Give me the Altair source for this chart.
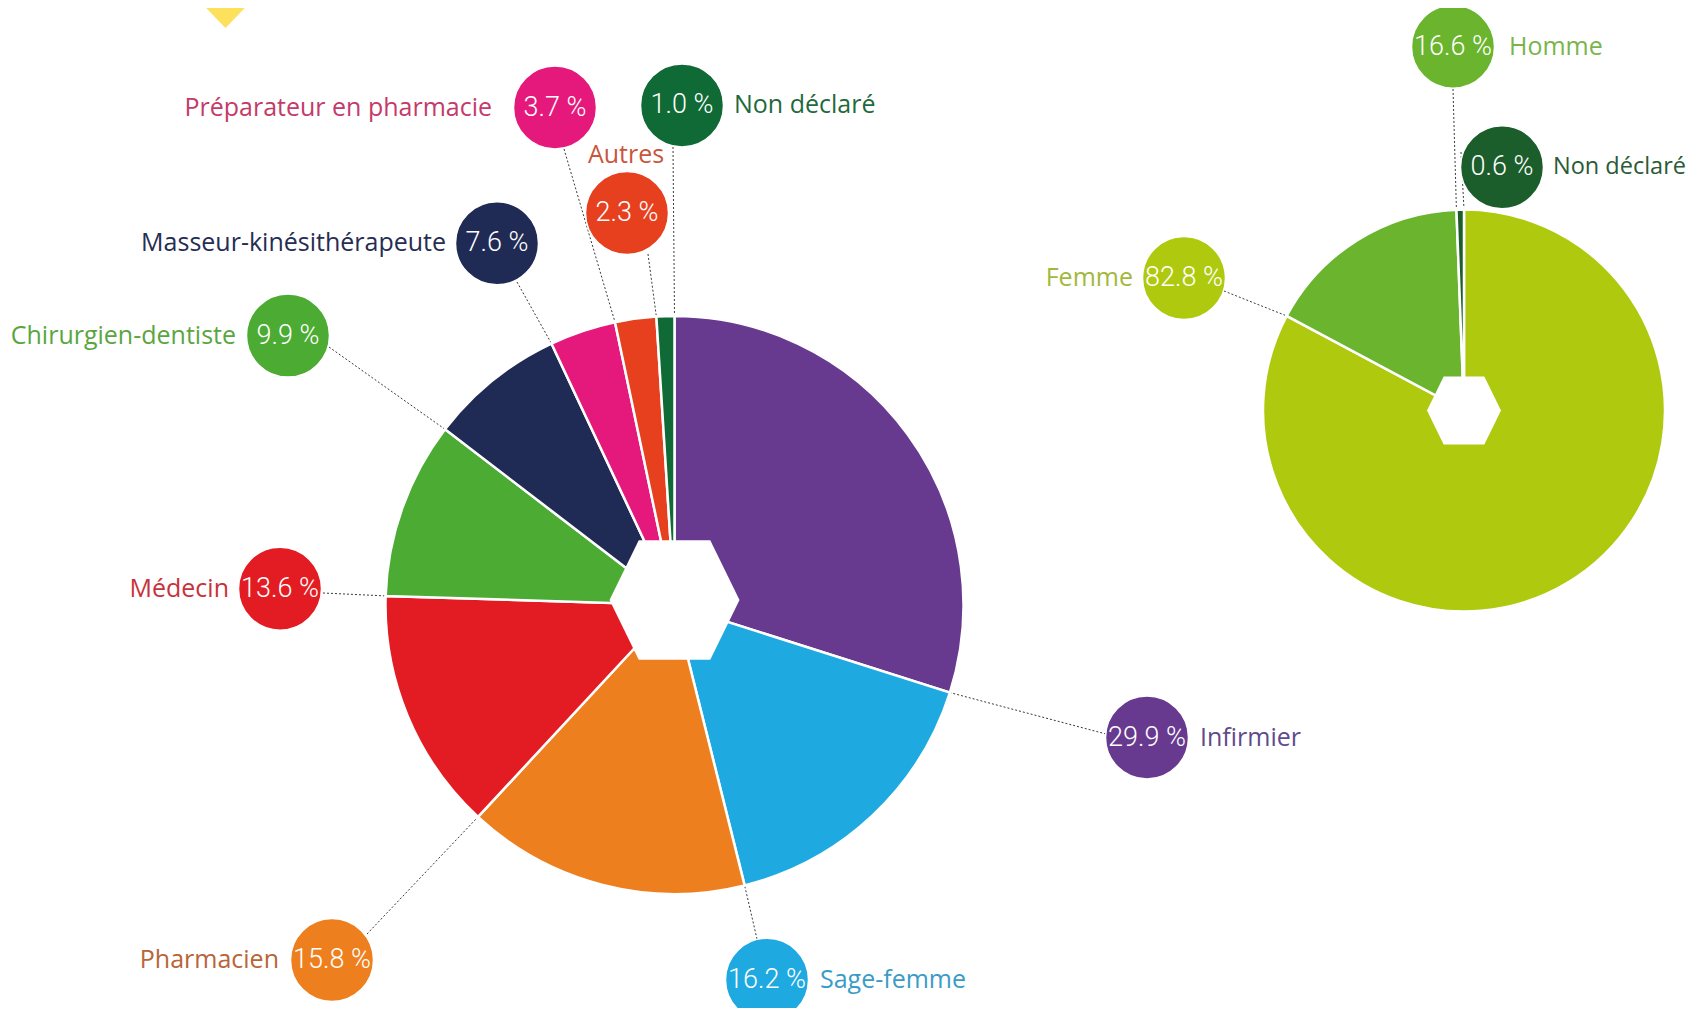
import math
import altair as alt
import pandas as pd
import numpy as np

# ---------------- data ----------------
prof_labels = ["Infirmier", "Sage-femme", "Pharmacien", "Médecin", "Chirurgien-dentiste",
               "Masseur-kinésithérapeute", "Préparateur en pharmacie", "Autres", "Non déclaré"]
prof_values = [29.9, 16.2, 15.8, 13.6, 9.9, 7.6, 3.7, 2.3, 1.0]

sex_labels = ["Femme", "Homme", "Non déclaré"]
sex_values = [82.8, 16.6, 0.6]

# ---------------- styles ----------------
prof_colors = ["#673a90", "#1ea9e1", "#ee7f1f", "#e31c23", "#4bab33",
               "#1f2a55", "#e5197b", "#e7401f", "#0f6a36"]
prof_text_colors = ["#604a8c", "#3a9cc6", "#b8653a", "#c8323a", "#5aa63e",
                    "#262d52", "#c43a6a", "#c9553c", "#1f6a3c"]
sex_colors = ["#afc90f", "#6ab42e", "#1b5e2c"]
sex_text_colors = ["#a3b83a", "#7ab44c", "#2b5a35"]

# ---------------- layout (page pixels) ----------------
W, H = 1687, 1000
prof_pie = dict(cx=674.5, cy=605.0, r=289, hex=130, hy=600.0)
sex_pie = dict(cx=1464.0, cy=410.5, r=201, hex=74, hy=410.5)

# bubble x, bubble y, label x, label y, label align, leader start x, leader start y, label font size
prof_layout = [
    (1147, 737.5, 1200, 737.5, "left", 1106, 734, 25),
    (767, 979.7, 820, 979.7, "left", 757, 939, 25),
    (332, 960, 279, 960, "right", 367, 934, 25),
    (280, 588.7, 229, 588.7, "right", 323, 593, 25),
    (288, 335.6, 236, 335.6, "right", 329, 347, 25),
    (497, 243.3, 446, 243.3, "right", 517, 282, 25),
    (555, 107.5, 492, 107.5, "right", 564, 149, 25),
    (627, 213, 626, 155, "center", 648, 254, 25),
    (682, 105.4, 734, 105.4, "left", 673, 147, 25),
]
sex_layout = [
    (1184, 278, 1133, 278, "right", 1224, 291, 25),
    (1453, 46.7, 1509, 46.7, "left", 1453, 89, 25),
    (1502, 167.3, 1553, 167.3, "left", 1461, 152, 23.5),
]

HEX = "M-1,0L-0.55,-0.92L0.55,-0.92L1,0L0.55,0.92L-0.55,0.92Z"
TRI = "M-1,-0.52L1,-0.52L0,0.52Z"
BUBBLE_D = 83


def build(labels, values, colors, tcolors, layout, pie):
    df = pd.DataFrame({"label": labels, "value": values, "color": colors, "tcolor": tcolors})
    df["end"] = df["value"].cumsum()
    df["start"] = df["end"] - df["value"]
    df["cx"] = pie["cx"]
    df["cy"] = pie["cy"]
    lay = pd.DataFrame(layout, columns=["bx", "by", "lx", "ly", "align", "sx", "sy", "fs"])
    df = pd.concat([df, lay], axis=1)
    ang = df["end"] / 100.0 * 2 * np.pi
    df["ex"] = pie["cx"] + pie["r"] * np.sin(ang)
    df["ey"] = pie["cy"] - pie["r"] * np.cos(ang)
    df["pct"] = [f"{v:.1f} %" for v in values]
    return df


prof = build(prof_labels, prof_values, prof_colors, prof_text_colors, prof_layout, prof_pie)
sex = build(sex_labels, sex_values, sex_colors, sex_text_colors, sex_layout, sex_pie)
items = pd.concat([prof, sex], ignore_index=True)

xs = alt.Scale(domain=[8, 8 + W], nice=False, zero=False)
ys = alt.Scale(domain=[8, 8 + H], nice=False, zero=False, reverse=True)


def X(f):
    return alt.X(f, type="quantitative", scale=xs, axis=None)


def Y(f):
    return alt.Y(f, type="quantitative", scale=ys, axis=None)


ts = alt.Scale(domain=[0, 100])


def pie_layer(df, pie):
    return alt.Chart(df).mark_arc(radius=pie["r"], stroke="white", strokeWidth=2.5).encode(
        x=X("cx"), y=Y("cy"),
        theta=alt.Theta("start:Q", scale=ts, stack=False),
        theta2="end:Q",
        color=alt.Color("color:N", scale=None),
    )


hexdf = pd.DataFrame({"cx": [prof_pie["cx"], sex_pie["cx"]],
                      "cy": [prof_pie["hy"], sex_pie["hy"]],
                      "s": [prof_pie["hex"] ** 2, sex_pie["hex"] ** 2]})
hexes = alt.Chart(hexdf).mark_point(shape=HEX, filled=True, fill="white", opacity=1,
                                    strokeWidth=0).encode(
    x=X("cx"), y=Y("cy"), size=alt.Size("s:Q", scale=None))

tri = alt.Chart(pd.DataFrame({"x": [225.5], "y": [14.0]})).mark_point(
    shape=TRI, filled=True, fill="#fde05b", opacity=1, strokeWidth=0, size=54 ** 2
).encode(x=X("x"), y=Y("y"))

leaders = alt.Chart(items).mark_rule(strokeDash=[2, 2], color="#3a3a3a", strokeWidth=1).encode(
    x=X("sx"), y=Y("sy"), x2="ex", y2="ey")

bubbles = alt.Chart(items).mark_circle(opacity=1, stroke="white", strokeWidth=1.5,
                                       size=BUBBLE_D ** 2).encode(
    x=X("bx"), y=Y("by"), color=alt.Color("color:N", scale=None))

pcts = alt.Chart(items).mark_text(font="Roboto", fontWeight=300, fontSize=27, color="white",
                                  baseline="middle", align="center").encode(
    x=X("bx"), y=Y("by"), text="pct:N")


def label_layer(align):
    return alt.Chart(items[items["align"] == align]).mark_text(
        font="Open Sans", baseline="middle", align=align).encode(
        x=X("lx"), y=Y("ly"), text="label:N",
        size=alt.Size("fs:Q", scale=None),
        color=alt.Color("tcolor:N", scale=None))


chart = alt.layer(
    tri,
    leaders,
    pie_layer(prof, prof_pie),
    pie_layer(sex, sex_pie),
    hexes,
    bubbles,
    pcts,
    label_layer("left"),
    label_layer("right"),
    label_layer("center"),
).properties(width=W, height=H, autosize="none", padding=0).configure_view(stroke=None)

chart.save("out.html", embed_options={"renderer": "svg", "actions": False})
